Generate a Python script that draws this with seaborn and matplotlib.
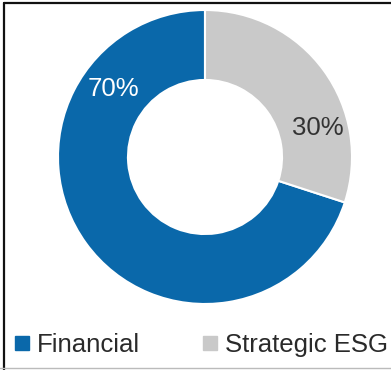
import matplotlib
matplotlib.use("Agg")
import matplotlib.pyplot as plt
from matplotlib.lines import Line2D
import seaborn as sns

categories = ["Financial", "Strategic ESG"]
values = [70, 30]
colors = ["#0a68aa", "#c9c9c9"]
label_colors = ["white", "#333333"]
# label anchor positions (data coords, unit radius)
label_pos = [(-0.62, 0.46), (0.77, 0.20)]

sns.set_theme(style="white")
plt.rcParams["font.family"] = ["Liberation Sans", "DejaVu Sans"]

W, H = 391, 370
fig = plt.figure(figsize=(W / 100, H / 100), dpi=100)
fig.patch.set_facecolor("white")

R = 147
cx, cy = 205, 157
ax = fig.add_axes([(cx - R) / W, (H - cy - R) / H, 2 * R / W, 2 * R / H])
wedges, _ = ax.pie(values, colors=colors, startangle=90, counterclock=True,
                   wedgeprops=dict(width=0.476, edgecolor="white", linewidth=1.5))
ax.set_xlim(-1, 1)
ax.set_ylim(-1, 1)
ax.set_aspect("equal")
ax.axis("off")

for v, (x, y), c in zip(values, label_pos, label_colors):
    ax.text(x, y, f"{v}%", color=c, fontsize=18.5, ha="center", va="center")

handles = [Line2D([], [], marker="s", linestyle="none", markersize=9.5,
                  markerfacecolor=col, markeredgecolor=col) for col in colors]
leg = fig.legend(handles, categories, loc="center left",
                 bbox_to_anchor=(15 / W, 1 - 345 / H), ncol=2, frameon=False,
                 fontsize=18.5, handlelength=0.55, handletextpad=0.3,
                 columnspacing=2.45, borderpad=0, borderaxespad=0)
for t in leg.get_texts():
    t.set_color("#2a2a2a")

# frame lines
fig.add_artist(Line2D([3.5 / W, 3.5 / W], [0, 1 - 2.5 / H], transform=fig.transFigure,
                      color="#111111", linewidth=1.6))
fig.add_artist(Line2D([3.5 / W, 1], [1 - 2.5 / H, 1 - 2.5 / H], transform=fig.transFigure,
                      color="#111111", linewidth=1.6))
fig.add_artist(Line2D([0, 1], [1 - 367.5 / H, 1 - 367.5 / H], transform=fig.transFigure,
                      color="#bbbbbb", linewidth=1.0))

fig.savefig("out.png", dpi=100)
